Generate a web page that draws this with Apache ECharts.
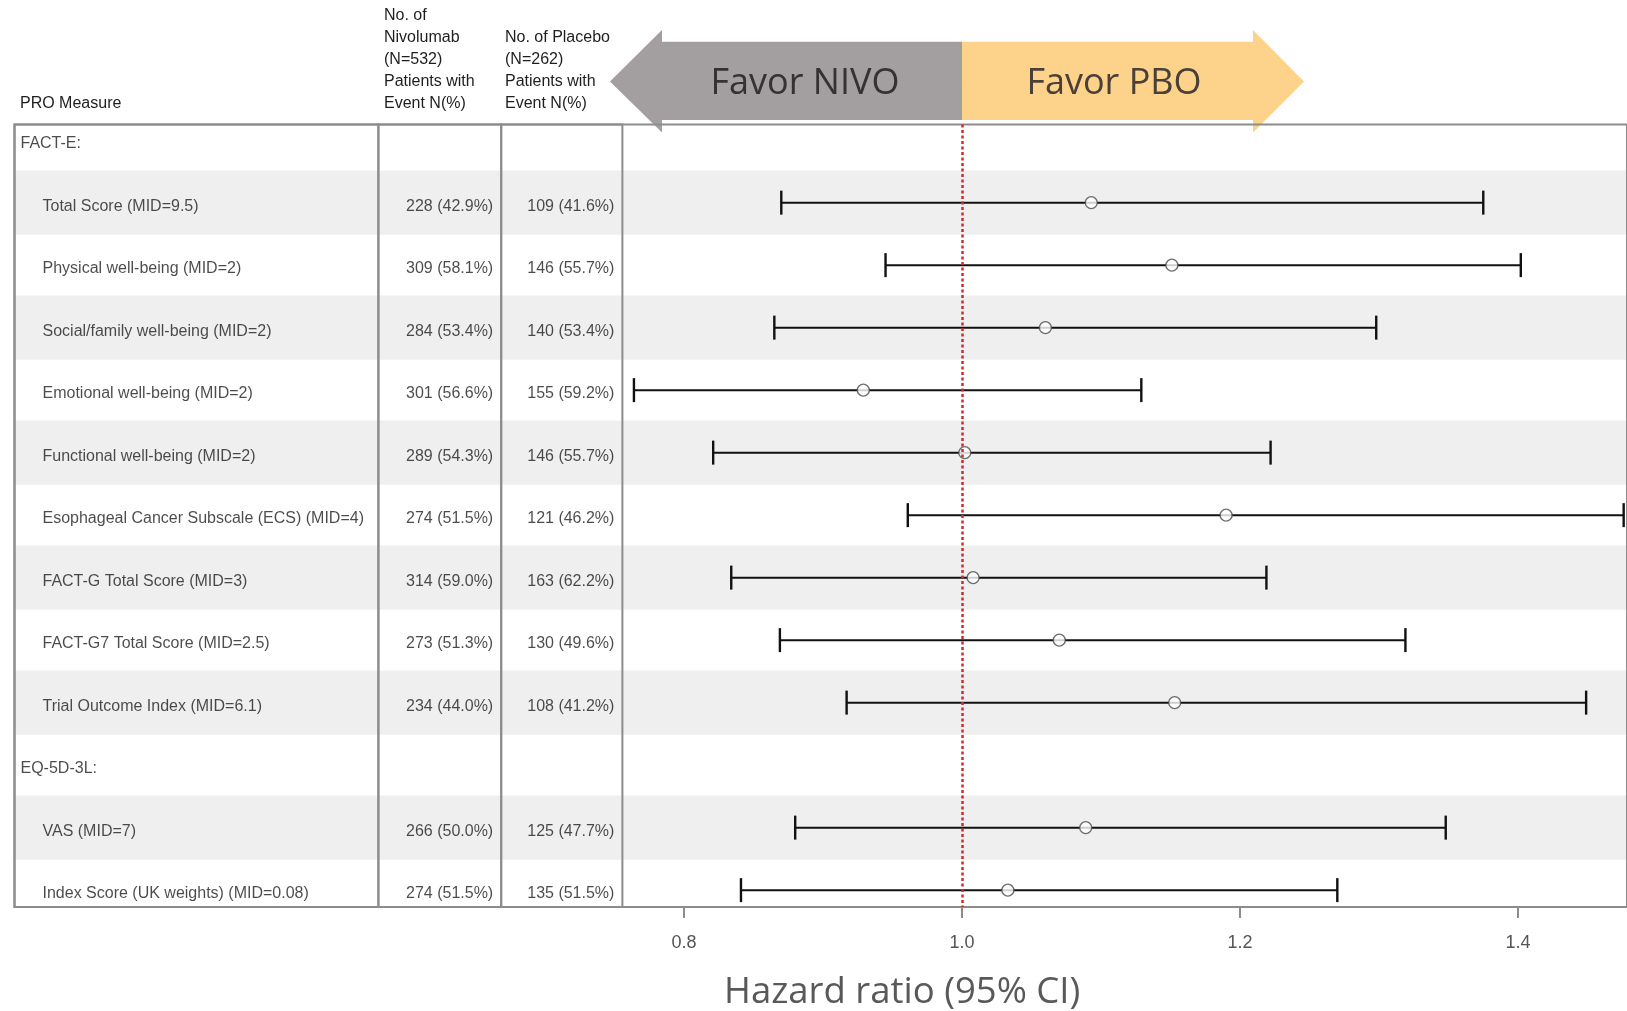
<!DOCTYPE html>
<html>
<head>
<meta charset="utf-8">
<script src="https://cdn.jsdelivr.net/npm/echarts@6/dist/echarts.min.js"></script>
<style>
html,body{margin:0;padding:0;background:#ffffff;}
#chart{width:1627px;height:1011px;}
</style>
</head>
<body>
<div id="chart"></div>
<script>
// ---------------- data ----------------
const measures = [
  'FACT-E:',
  'Total Score (MID=9.5)',
  'Physical well-being (MID=2)',
  'Social/family well-being (MID=2)',
  'Emotional well-being (MID=2)',
  'Functional well-being (MID=2)',
  'Esophageal Cancer Subscale (ECS) (MID=4)',
  'FACT-G Total Score (MID=3)',
  'FACT-G7 Total Score (MID=2.5)',
  'Trial Outcome Index (MID=6.1)',
  'EQ-5D-3L:',
  'VAS (MID=7)',
  'Index Score (UK weights) (MID=0.08)'
];
const nivoEvents = [null, 228, 309, 284, 301, 289, 274, 314, 273, 234, null, 266, 274];
const nivoPct    = [null, 42.9, 58.1, 53.4, 56.6, 54.3, 51.5, 59.0, 51.3, 44.0, null, 50.0, 51.5];
const pboEvents  = [null, 109, 146, 140, 155, 146, 121, 163, 130, 108, null, 125, 135];
const pboPct     = [null, 41.6, 55.7, 53.4, 59.2, 55.7, 46.2, 62.2, 49.6, 41.2, null, 47.7, 51.5];
const hazardRatio = [null, 1.093, 1.151, 1.060, 0.929, 1.002, 1.190, 1.008, 1.070, 1.153, null, 1.089, 1.033];
const ciLower     = [null, 0.870, 0.945, 0.865, 0.764, 0.821, 0.961, 0.834, 0.869, 0.917, null, 0.880, 0.841];
const ciUpper     = [null, 1.375, 1.402, 1.298, 1.129, 1.222, 1.476, 1.219, 1.319, 1.449, null, 1.348, 1.270];
const xTicks = [0.8, 1.0, 1.2, 1.4];
const refValue = 1.0;
const headerMeasure = 'PRO Measure';
const headerNivo = 'No. of\nNivolumab\n(N=532)\nPatients with\nEvent N(%)';
const headerPbo = 'No. of Placebo\n(N=262)\nPatients with\nEvent N(%)';
const favorLeft = 'Favor NIVO';
const favorRight = 'Favor PBO';
const axisTitle = 'Hazard ratio (95% CI)';

// ---------------- fonts ----------------
function fontAvailable(name) {
  const ctx = document.createElement('canvas').getContext('2d');
  const s = 'Esophageal Cancer Subscale (ECS) 0123';
  ctx.font = '20px monospace';
  const a = ctx.measureText(s).width;
  ctx.font = '20px "' + name + '", monospace';
  const b = ctx.measureText(s).width;
  return Math.abs(a - b) > 0.5;
}
const narrow = fontAvailable('Liberation Sans Narrow');
const tableFont = narrow ? '"Liberation Sans Narrow", "Arial Narrow", sans-serif' : '"Liberation Sans", Arial, sans-serif';
const tableSize = narrow ? 19 : 16;
const bigFont = '"Open Sans", "Noto Sans", sans-serif';

// ---------------- layout ----------------
const TOP = 124.5, HEIGHT = 782.5;
const YMIN = -0.25, YMAX = 12.27;
const borderColor = '#8c8c8c';
const textColor = '#1e1e1e';
const rows = measures.map((m, i) => i);
const isSection = measures.map((m, i) => hazardRatio[i] === null);

const yAxes = [0, 1, 2, 3, 4].map(g => ({
  gridIndex: g, type: 'value', inverse: true, min: YMIN, max: YMAX, show: false
}));

const bandData = rows.filter(i => i % 2 === 1).map(i => [{ yAxis: i - 0.515 }, { yAxis: i + 0.515 }]);

const option = {
  backgroundColor: '#ffffff',
  animation: false,
  grid: [
    { left: 14.5, top: TOP, width: 363.9, height: HEIGHT, show: true, borderColor: borderColor, borderWidth: 2, backgroundColor: 'transparent' },
    { left: 378.4, top: TOP, width: 122.8, height: HEIGHT, show: true, borderColor: borderColor, borderWidth: 2, backgroundColor: 'transparent' },
    { left: 501.2, top: TOP, width: 121.2, height: HEIGHT, show: true, borderColor: borderColor, borderWidth: 2, backgroundColor: 'transparent' },
    { left: 622.4, top: TOP, right: 0, height: HEIGHT, show: false },
    { left: 14.5, top: TOP, right: -6, height: HEIGHT, show: true, borderColor: borderColor, borderWidth: 2, backgroundColor: 'transparent' }
  ],
  xAxis: [
    { gridIndex: 0, type: 'value', min: 0, max: 1, show: false },
    { gridIndex: 1, type: 'value', min: 0, max: 1, show: false },
    { gridIndex: 2, type: 'value', min: 0, max: 1, show: false },
    {
      gridIndex: 3, type: 'value', min: 0.7557, max: 1.4784, position: 'bottom',
      axisLine: { show: false, onZero: false },
      splitLine: { show: false },
      axisTick: { show: true, customValues: xTicks, length: 11, inside: false, lineStyle: { color: borderColor, width: 2 } },
      axisLabel: {
        show: true, customValues: xTicks, formatter: v => Number(v).toFixed(1),
        margin: 27, fontSize: 18, color: '#555555', fontFamily: '"Liberation Sans", Arial, sans-serif'
      }
    },
    { gridIndex: 4, type: 'value', min: 0, max: 1, show: false }
  ],
  yAxis: yAxes,
  series: [
    {
      type: 'scatter', xAxisIndex: 4, yAxisIndex: 4, data: [], z: -1, silent: true,
      markArea: { silent: true, z: -1, itemStyle: { color: '#efefef', opacity: 1 }, label: { show: false }, data: bandData }
    },
    {
      type: 'scatter', xAxisIndex: 0, yAxisIndex: 0, symbolSize: 0, silent: true,
      itemStyle: { color: 'transparent' },
      data: rows.map(i => ({ value: [0, i], label: { distance: isSection[i] ? 6 : 28 } })),
      label: {
        show: true, position: 'right', offset: [0, 3.5], formatter: p => measures[p.dataIndex],
        fontFamily: tableFont, fontSize: tableSize, color: textColor
      }
    },
    {
      type: 'scatter', xAxisIndex: 1, yAxisIndex: 1, symbolSize: 0, silent: true,
      itemStyle: { color: 'transparent' },
      data: rows.filter(i => nivoEvents[i] !== null).map(i => ({ value: [1, i], name: nivoEvents[i] + ' (' + nivoPct[i].toFixed(1) + '%)' })),
      label: { show: true, position: 'left', distance: 8, offset: [0, 3.5], formatter: p => p.name, fontFamily: tableFont, fontSize: tableSize, color: textColor }
    },
    {
      type: 'scatter', xAxisIndex: 2, yAxisIndex: 2, symbolSize: 0, silent: true,
      itemStyle: { color: 'transparent' },
      data: rows.filter(i => pboEvents[i] !== null).map(i => ({ value: [1, i], name: pboEvents[i] + ' (' + pboPct[i].toFixed(1) + '%)' })),
      label: { show: true, position: 'left', distance: 8, offset: [0, 3.5], formatter: p => p.name, fontFamily: tableFont, fontSize: tableSize, color: textColor }
    },
    {
      type: 'custom', xAxisIndex: 3, yAxisIndex: 3, silent: true, clip: false,
      data: rows.filter(i => hazardRatio[i] !== null).map(i => [ciLower[i], ciUpper[i], i]),
      encode: { x: [0, 1], y: 2 },
      renderItem: function (params, api) {
        const y = api.value(2);
        const p1 = api.coord([api.value(0), y]);
        const p2 = api.coord([api.value(1), y]);
        const h = 12;
        return {
          type: 'group',
          children: [
            { type: 'line', shape: { x1: p1[0], y1: p1[1], x2: p2[0], y2: p2[1] }, style: { stroke: '#111111', lineWidth: 2 } },
            { type: 'line', shape: { x1: p1[0], y1: p1[1] - h, x2: p1[0], y2: p1[1] + h }, style: { stroke: '#111111', lineWidth: 2.4 } },
            { type: 'line', shape: { x1: p2[0], y1: p2[1] - h, x2: p2[0], y2: p2[1] + h }, style: { stroke: '#111111', lineWidth: 2.4 } }
          ]
        };
      },
      markLine: {
        silent: true, symbol: 'none', label: { show: false },
        lineStyle: { color: '#d42a2a', type: [3, 2.5], width: 2.5 },
        data: [{ xAxis: refValue }]
      }
    },
    {
      type: 'scatter', xAxisIndex: 3, yAxisIndex: 3, silent: true, z: 4,
      symbol: 'circle', symbolSize: 12,
      itemStyle: { color: '#ffffff', borderColor: '#4a4a4a', borderWidth: 1.4 },
      data: rows.filter(i => hazardRatio[i] !== null).map(i => [hazardRatio[i], i])
    }
  ]
};

const chart = echarts.init(document.getElementById('chart'), null, { renderer: 'canvas' });
chart.setOption(option);

const split = chart.convertToPixel({ xAxisIndex: 3 }, refValue);
const bodyTop = 41.7, bodyBot = 120, headTop = 30, headBot = 132.5, midY = 81.5;
const leftTip = 610, leftBack = 662, rightBack = 1253, rightTip = 1304;

chart.setOption({
  graphic: [
    {
      type: 'polygon', z: -2, silent: true,
      shape: { points: [[leftTip, midY], [leftBack, headTop], [leftBack, bodyTop], [split, bodyTop], [split, bodyBot], [leftBack, bodyBot], [leftBack, headBot]] },
      style: { fill: '#a39e9f' }
    },
    {
      type: 'polygon', z: -2, silent: true,
      shape: { points: [[split, bodyTop], [rightBack, bodyTop], [rightBack, headTop], [rightTip, midY], [rightBack, headBot], [rightBack, bodyBot], [split, bodyBot]] },
      style: { fill: '#fdd38c' }
    },
    {
      type: 'text', silent: true, x: split - 157, y: 84,
      style: { text: favorLeft, font: '36px ' + bigFont, fill: '#333333', align: 'center', verticalAlign: 'middle', textAlign: 'center', textVerticalAlign: 'middle' }
    },
    {
      type: 'text', silent: true, x: split + 152, y: 84,
      style: { text: favorRight, font: '36px ' + bigFont, fill: '#4a4038', align: 'center', verticalAlign: 'middle', textAlign: 'center', textVerticalAlign: 'middle' }
    },
    {
      type: 'text', silent: true, x: 20, y: 92.3,
      style: { text: headerMeasure, font: tableSize + 'px ' + tableFont, fill: textColor, lineHeight: 22, verticalAlign: 'top', textVerticalAlign: 'top' }
    },
    {
      type: 'text', silent: true, x: 384, y: 5,
      style: { text: headerNivo, font: tableSize + 'px ' + tableFont, fill: textColor, lineHeight: 22, verticalAlign: 'top', textVerticalAlign: 'top' }
    },
    {
      type: 'text', silent: true, x: 505, y: 26.5,
      style: { text: headerPbo, font: tableSize + 'px ' + tableFont, fill: textColor, lineHeight: 22, verticalAlign: 'top', textVerticalAlign: 'top' }
    },
    {
      type: 'text', silent: true, x: 724, y: 993,
      style: { text: axisTitle, font: '36.5px ' + bigFont, fill: '#595959', verticalAlign: 'middle', textVerticalAlign: 'middle' }
    }
  ]
});
</script>
</body>
</html>
